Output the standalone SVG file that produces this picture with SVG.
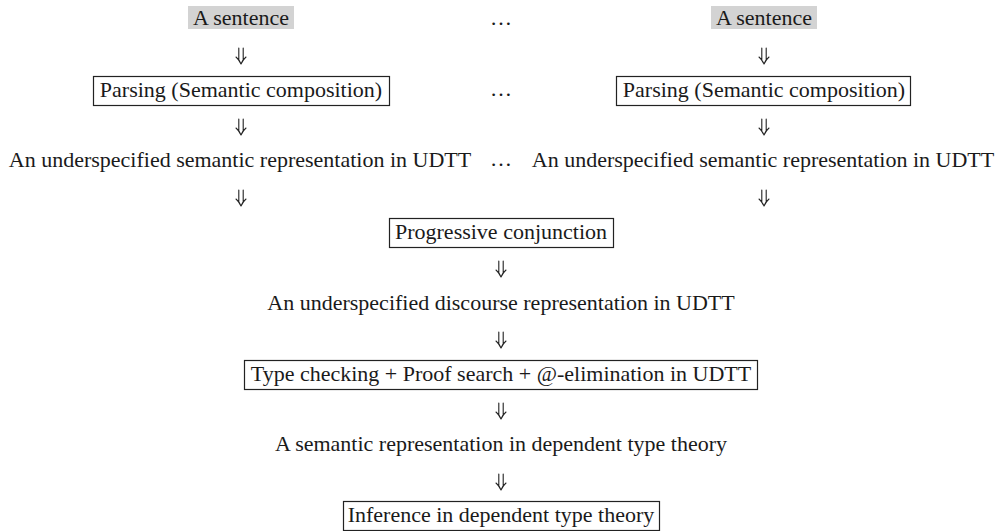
<svg xmlns="http://www.w3.org/2000/svg" width="995" height="531" viewBox="0 0 995 531">
<style>
text{font-family:"Liberation Serif","Times New Roman",serif;font-size:22px;fill:#1a1a1a;text-anchor:middle}
.box{fill:#fff;stroke:#222;stroke-width:1.2}
.hl{fill:#d3d3d3;stroke:none}
.arr{fill:none;stroke:#222;stroke-width:1.1;stroke-linecap:round;stroke-linejoin:round}
</style>
<defs>
<g id="dar"><path class="arr" d="M-2.2,-8 V3.5 M2.2,-8 V3.5 M-5,1 Q-2,3.5 0,8 Q2,3.5 5,1"/></g>
</defs>
<rect width="995" height="531" fill="#fff"/>
<g id="connectors">
<use href="#dar" x="241" y="56"/>
<use href="#dar" x="764" y="56"/>
<use href="#dar" x="241" y="127"/>
<use href="#dar" x="764" y="127"/>
<use href="#dar" x="241" y="198"/>
<use href="#dar" x="764" y="198"/>
<use href="#dar" x="501" y="269"/>
<use href="#dar" x="501" y="340"/>
<use href="#dar" x="501" y="411"/>
<use href="#dar" x="501" y="482"/>
</g>
<g id="sentence1"><rect class="hl" x="188" y="6" width="106" height="23"/><text x="241" y="25">A sentence</text></g>
<g id="sentence2"><rect class="hl" x="711" y="6" width="106" height="23"/><text x="764" y="25">A sentence</text></g>
<g id="dots1"><text x="501" y="25">…</text></g>
<g id="parse1"><rect class="box" x="93.5" y="76.5" width="296" height="29"/><text x="241" y="97">Parsing (Semantic composition)</text></g>
<g id="parse2"><rect class="box" x="616.5" y="76.5" width="294" height="29"/><text x="764" y="97">Parsing (Semantic composition)</text></g>
<g id="dots2"><text x="501" y="96">…</text></g>
<g id="udtt1"><text x="240" y="167">An underspecified semantic representation in UDTT</text></g>
<g id="udtt2"><text x="763" y="167">An underspecified semantic representation in UDTT</text></g>
<g id="dots3"><text x="501" y="166">…</text></g>
<g id="progressive"><rect class="box" x="389.5" y="218.5" width="224" height="29"/><text x="501" y="239">Progressive conjunction</text></g>
<g id="discourse"><text x="501" y="310">An underspecified discourse representation in UDTT</text></g>
<g id="typecheck"><rect class="box" x="244.5" y="360.5" width="513" height="29"/><text x="501" y="381">Type checking + Proof search + @-elimination in UDTT</text></g>
<g id="semrep"><text x="501" y="451">A semantic representation in dependent type theory</text></g>
<g id="inference"><rect class="box" x="343.5" y="501.5" width="316" height="29"/><text x="501" y="522">Inference in dependent type theory</text></g>
</svg>
